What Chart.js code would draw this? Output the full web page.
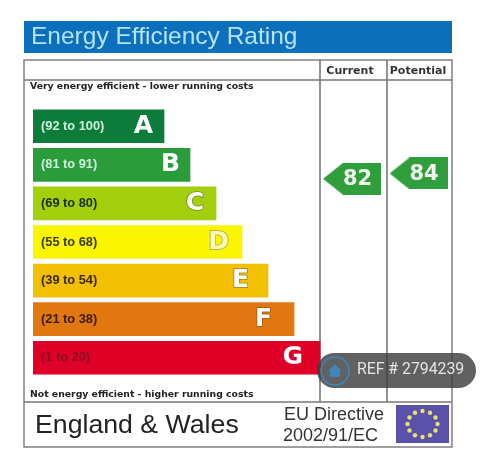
<!DOCTYPE html>
<html>
<head>
<meta charset="utf-8">
<title>Energy Efficiency Rating</title>
<script src="https://cdn.jsdelivr.net/npm/chart.js@4/dist/chart.umd.min.js"></script>
<style>
    html, body { margin: 0; padding: 0; background: #fff; }
    canvas { display: block; }
</style>
</head>
<body>
<canvas id="eerChart" width="485" height="466"></canvas>
<script>
const bandRanges = ['(92 to 100)', '(81 to 91)', '(69 to 80)', '(55 to 68)', '(39 to 54)', '(21 to 38)', '(1 to 20)'];
const bandLetters = ['A', 'B', 'C', 'D', 'E', 'F', 'G'];
const bandLengths = [5.04, 6.04, 7.04, 8.04, 9.04, 10.04, 11.04];
const bandColors = ['#0c7c3b', '#2b9c3a', '#a3cf0c', '#fbf600', '#f2bf02', '#e0770f', '#de0026'];
const rangeColors = ['#cfeedd', '#cfeedd', '#1c2a00', '#3a3a00', '#3a2a00', '#3a1a00', '#8c0a20'];
const letterFills = ['#ffffff', '#ffffff', '#ffffff', '#fdfbb0', '#ffffff', '#ffffff', '#ffffff'];
const letterEdges = ['#0c7c3b', '#2b9c3a', '#6f8f10', '#a0a060', '#a08020', '#a05a10', '#de0026'];
const letterInsets = [11, 10, 12, 13, 19, 22, 17];
const ratingColumns = ['Current', 'Potential'];
const ratingValues = [82, 84];

const corGrade = '#777777';

function criarSeta() {
    const c = document.createElement('canvas');
    c.width = 58; c.height = 32;
    const g = c.getContext('2d');
    g.fillStyle = '#2f9e3b';
    g.beginPath();
    g.moveTo(0, 16); g.lineTo(20, 0); g.lineTo(58, 0); g.lineTo(58, 32); g.lineTo(20, 32);
    g.closePath();
    g.fill();
    return c;
}

function texto(ctx, str, x, y, font, cor, align) {
    ctx.font = font;
    ctx.fillStyle = cor;
    ctx.textAlign = align || 'left';
    ctx.textBaseline = 'middle';
    ctx.fillText(str, x, y);
}

function linha(ctx, x1, y1, x2, y2) {
    ctx.beginPath();
    ctx.moveTo(x1, y1);
    ctx.lineTo(x2, y2);
    ctx.stroke();
}

const molduraPlugin = {
    id: 'moldura',
    beforeDraw(chart) {
        const ctx = chart.ctx;
        ctx.save();
        ctx.fillStyle = '#0b6fbc';
        ctx.fillRect(24, 21, 428, 32);
        texto(ctx, 'Energy Efficiency Rating', 31, 37, '24.5px "Liberation Sans"', '#b4e2f6');

        ctx.strokeStyle = corGrade;
        ctx.lineWidth = 1.4;
        ctx.strokeRect(24, 60, 428, 387);
        linha(ctx, 24, 80, 452, 80);
        linha(ctx, 24, 402, 452, 402);
        ctx.lineWidth = 1.6;
        linha(ctx, 320, 60, 320, 402);
        linha(ctx, 387, 60, 387, 402);

        texto(ctx, ratingColumns[0], 350, 71, 'bold 11px "DejaVu Sans"', '#333333', 'center');
        texto(ctx, ratingColumns[1], 418, 71, 'bold 11px "DejaVu Sans"', '#333333', 'center');
        texto(ctx, 'Very energy efficient - lower running costs', 30, 87, 'bold 9.3px "DejaVu Sans"', '#222222');
        texto(ctx, 'Not energy efficient - higher running costs', 30, 395, 'bold 9.3px "DejaVu Sans"', '#222222');
        texto(ctx, 'England & Wales', 35, 426, '26.7px "Liberation Sans"', '#222222');
        texto(ctx, 'EU Directive', 284, 415, '18px "Liberation Sans"', '#333333');
        texto(ctx, '2002/91/EC', 283, 436, '18px "Liberation Sans"', '#333333');
        ctx.restore();
    },
    afterDatasetsDraw(chart) {
        const ctx = chart.ctx;
        ctx.save();
        // letras no fim de cada faixa
        chart.getDatasetMeta(0).data.forEach((barra, i) => {
            ctx.font = 'bold 25px "DejaVu Sans"';
            ctx.textAlign = 'right';
            ctx.textBaseline = 'middle';
            ctx.lineWidth = 1.5;
            ctx.strokeStyle = letterEdges[i];
            ctx.strokeText(bandLetters[i], barra.x - letterInsets[i], barra.y);
            ctx.fillStyle = letterFills[i];
            ctx.fillText(bandLetters[i], barra.x - letterInsets[i], barra.y);
        });
        // numeros dentro das setas
        chart.getDatasetMeta(1).data.forEach((ponto, i) => {
            texto(ctx, String(ratingValues[i]), ponto.x + 5.5, ponto.y + 1, 'bold 21px "DejaVu Sans"', '#f0f5ee', 'center');
        });
        ctx.restore();
    },
    afterDraw(chart) {
        const ctx = chart.ctx;
        ctx.save();
        // bandeira da UE
        ctx.fillStyle = '#5a52aa';
        ctx.fillRect(396, 405, 53, 38);
        ctx.fillStyle = '#e8e070';
        for (let i = 0; i < 12; i++) {
            const a = i * Math.PI / 6;
            ctx.beginPath();
            ctx.arc(422.5 + 15 * Math.cos(a), 424 + 13 * Math.sin(a), 2.2, 0, Math.PI * 2);
            ctx.fill();
        }
        // selo REF
        ctx.fillStyle = 'rgba(62, 62, 62, 0.82)';
        ctx.beginPath();
        ctx.roundRect(317, 353, 159, 35, 17.5);
        ctx.fill();
        ctx.strokeStyle = '#3f86b8';
        ctx.lineWidth = 1.5;
        ctx.beginPath();
        ctx.arc(335, 371, 14, 0, Math.PI * 2);
        ctx.stroke();
        ctx.fillStyle = '#3f86b8';
        ctx.beginPath();
        ctx.moveTo(335, 364); ctx.lineTo(342, 371); ctx.lineTo(340, 371); ctx.lineTo(340, 377);
        ctx.lineTo(330, 377); ctx.lineTo(330, 371); ctx.lineTo(328, 371);
        ctx.closePath();
        ctx.fill();
        texto(ctx, 'REF # 2794239', 357, 370, '15.8px Roboto', '#e4e4e4');
        ctx.restore();
    }
};

const seta = criarSeta();

new Chart(document.getElementById('eerChart'), {
    type: 'bar',
    data: {
        labels: bandRanges,
        datasets: [
            {
                data: bandLengths,
                backgroundColor: bandColors,
                borderWidth: 0,
                barThickness: 33,
                grouped: false,
                xAxisID: 'x',
                yAxisID: 'y'
            },
            {
                type: 'scatter',
                data: ratingValues.map((v, i) => ({ x: [12.27, 14.83][i], y: v })),
                xAxisID: 'x',
                yAxisID: 'yScore',
                pointStyle: seta,
                clip: false
            }
        ]
    },
    options: {
        indexAxis: 'y',
        responsive: false,
        animation: false,
        layout: { padding: { left: 33, right: 33, top: 107, bottom: 89 } },
        plugins: { legend: { display: false }, tooltip: { enabled: false } },
        scales: {
            x: { type: 'linear', min: 0, max: 16.115, display: false },
            y: {
                type: 'category',
                offset: true,
                afterFit: scale => { scale.width = 0; },
                grid: { display: false, drawTicks: false },
                border: { display: false },
                ticks: {
                    mirror: true,
                    z: 1,
                    padding: 8,
                    color: ctx => rangeColors[ctx.index],
                    font: { family: '"Liberation Sans"', weight: 'bold', size: 12.8 }
                }
            },
            yScore: { type: 'linear', position: 'right', min: 13.33, max: 103.67, display: false }
        }
    },
    plugins: [molduraPlugin]
});
</script>
</body>
</html>
